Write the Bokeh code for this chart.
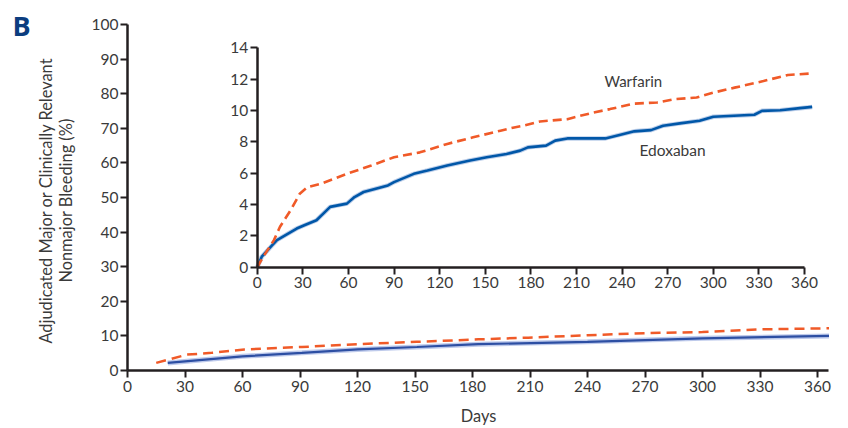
import math
from bokeh.plotting import figure
from bokeh.models import LinearAxis, Range1d, FixedTicker, Label
from bokeh.embed import file_html
from bokeh.resources import INLINE

# ---- data ----
main_xticks = [0, 30, 60, 90, 120, 150, 180, 210, 240, 270, 300, 330, 360]
main_yticks = [0, 10, 20, 30, 40, 50, 60, 70, 80, 90, 100]
inset_xticks = [0, 30, 60, 90, 120, 150, 180, 210, 240, 270, 300, 330, 360]
inset_yticks = [0, 2, 4, 6, 8, 10, 12, 14]

# inset curves (days, %)
inset_warf_days = [0, 4, 11, 15, 22, 28, 33, 42, 59, 75, 90, 107, 125, 142, 160, 169, 175, 186,
                   204, 221, 232, 248, 263, 274, 289, 300, 314, 333, 349, 365]
inset_warf_pct = [0, 0.67, 1.73, 2.58, 3.64, 4.69, 5.11, 5.33, 5.96, 6.49, 7.02, 7.33, 7.87, 8.29,
                  8.71, 8.92, 9.03, 9.30, 9.45, 9.87, 10.09, 10.44, 10.51, 10.72, 10.83, 11.14,
                  11.46, 11.88, 12.27, 12.37]
inset_edox_days = [0, 3, 9, 13, 26, 31, 39, 48, 59, 64, 70, 86, 90, 103, 112, 125, 140, 151, 164,
                   173, 178, 190, 196, 204, 229, 239, 248, 259, 267, 278, 291, 300, 327, 332, 344,
                   357, 365]
inset_edox_pct = [0, 0.67, 1.31, 1.73, 2.47, 2.68, 3.0, 3.85, 4.06, 4.48, 4.8, 5.22, 5.43, 5.96,
                  6.17, 6.49, 6.81, 7.02, 7.23, 7.44, 7.65, 7.76, 8.08, 8.22, 8.22, 8.46, 8.67,
                  8.75, 9.03, 9.18, 9.35, 9.60, 9.73, 9.98, 10.02, 10.15, 10.23]

# main-panel curves (days, %)
main_warf_days = [15, 31, 44, 61, 91, 120, 151, 183, 209, 240, 270, 300, 330, 366]
main_warf_pct = [2.2, 4.6, 5.1, 6.1, 6.8, 7.6, 8.3, 9.0, 9.5, 10.2, 10.8, 11.1, 11.9, 12.2]
main_edox_days = [21, 60, 91, 120, 151, 183, 240, 300, 366]
main_edox_pct = [2.2, 4.1, 5.1, 6.1, 6.8, 7.6, 8.3, 9.3, 10.0]

y_title = ["Adjudicated Major or Clinically Relevant", "Nonmajor Bleeding (%)"]
x_title = "Days"
panel_letter = "B"

FONT = "Lato"
TXT = "#3a3a3a"
AX = "#231f20"
ORANGE = "#f05a28"
BLUE = "#0057a8"
BLUE_MAIN = "#2d4fa3"
W, H = 848, 428

# frame covers the whole canvas; all axes are placed with fixed_location
p = figure(width=W, height=H, output_backend="svg", toolbar_location=None,
           x_range=Range1d(-66.26, 376.17), y_range=Range1d(-16.76, 106.94),
           x_axis_type=None, y_axis_type=None,
           min_border_left=0, min_border_right=0, min_border_top=0, min_border_bottom=0)
p.outline_line_color = None
p.xgrid.visible = False
p.ygrid.visible = False
p.background_fill_color = "white"
p.border_fill_color = "white"
p.extra_x_ranges = {"ix": Range1d(-168.83, 388.9)}
p.extra_y_ranges = {"iy": Range1d(-10.29, 17.02)}


def style_axis(ax, size="15.5px"):
    ax.axis_line_color = AX
    ax.axis_line_width = 2.5
    ax.major_tick_line_color = AX
    ax.major_tick_line_width = 2
    ax.major_tick_out = 7
    ax.major_tick_in = 0
    ax.minor_tick_line_color = None
    ax.major_label_text_font = FONT
    ax.major_label_text_font_size = size
    ax.major_label_text_color = TXT


# main axes
my = LinearAxis(fixed_location=0, bounds=(0, 100), ticker=FixedTicker(ticks=main_yticks))
mx = LinearAxis(fixed_location=0, bounds=(0, 365.7), ticker=FixedTicker(ticks=main_xticks))
style_axis(my)
style_axis(mx)
my.major_label_standoff = 2
mx.major_label_standoff = 3
p.add_layout(my, "left")
p.add_layout(mx, "below")

# inset axes
iy_axis = LinearAxis(x_range_name="ix", y_range_name="iy", fixed_location=0, bounds=(0, 14),
                     ticker=FixedTicker(ticks=inset_yticks))
ix_axis = LinearAxis(x_range_name="ix", y_range_name="iy", fixed_location=0, bounds=(0, 360),
                     ticker=FixedTicker(ticks=inset_xticks))
style_axis(iy_axis)
style_axis(ix_axis)
ix_axis.major_label_standoff = 3
iy_axis.major_label_standoff = 2
p.add_layout(iy_axis, "left")
p.add_layout(ix_axis, "below")

# main curves
p.line(main_edox_days, main_edox_pct, line_color="#aebde6", line_width=5, line_alpha=0.8)
p.line(main_edox_days, main_edox_pct, line_color=BLUE_MAIN, line_width=2.2)
p.line(main_warf_days, main_warf_pct, line_color=ORANGE, line_width=2.5, line_dash="10 6")

# inset curves
p.line(inset_edox_days, inset_edox_pct, x_range_name="ix", y_range_name="iy",
       line_color="#9fb9e0", line_width=4.5, line_alpha=0.7)
p.line(inset_edox_days, inset_edox_pct, x_range_name="ix", y_range_name="iy",
       line_color=BLUE, line_width=2.6)
p.line(inset_warf_days, inset_warf_pct, x_range_name="ix", y_range_name="iy",
       line_color=ORANGE, line_width=2.6, line_dash="9 5")

p.add_layout(Label(x=228.4, y=11.9, x_range_name="ix", y_range_name="iy", text="Warfarin",
                   text_font=FONT, text_font_size="15px", text_color=TXT,
                   text_baseline="middle", text_align="left"))
p.add_layout(Label(x=251.4, y=7.45, x_range_name="ix", y_range_name="iy", text="Edoxaban",
                   text_font=FONT, text_font_size="15.5px", text_color=TXT,
                   text_baseline="middle", text_align="left"))

# axis titles (screen units relative to the frame = canvas, origin bottom-left)
p.add_layout(Label(x=45, y=H - 200, x_units="screen", y_units="screen", text=y_title[0],
                   angle=math.pi / 2, text_font=FONT, text_font_size="16.4px", text_color=TXT,
                   text_baseline="middle", text_align="center"))
p.add_layout(Label(x=65, y=H - 200, x_units="screen", y_units="screen", text=y_title[1],
                   angle=math.pi / 2, text_font=FONT, text_font_size="16.4px", text_color=TXT,
                   text_baseline="middle", text_align="center"))
p.add_layout(Label(x=478, y=H - 415, x_units="screen", y_units="screen", text=x_title,
                   text_font=FONT, text_font_size="16.4px", text_color=TXT,
                   text_baseline="middle", text_align="center"))

# panel letter
p.add_layout(Label(x=12, y=H - 25, x_units="screen", y_units="screen", text=panel_letter,
                   text_font="Open Sans", text_font_size="27px", text_font_style="bold",
                   text_color="#0b3d7f", text_baseline="middle", text_align="left"))

open("out.html", "w").write(file_html(p, INLINE))
